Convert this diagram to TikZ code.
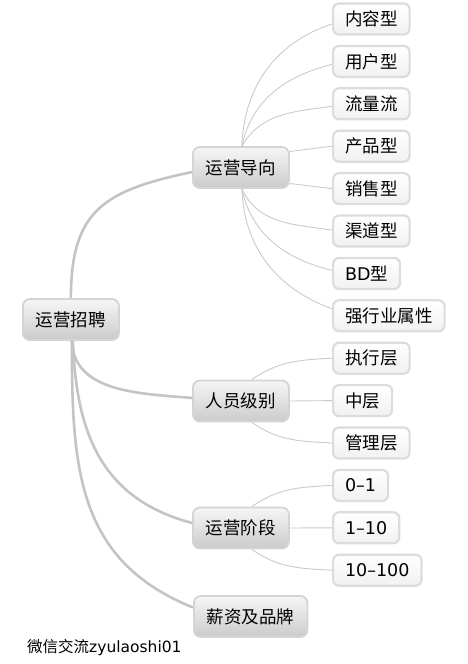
\documentclass[tikz,border=0pt]{standalone}
\usepackage{fontspec}
\setmainfont{Noto Sans CJK SC}
\newfontfamily\latin{DejaVu Sans}
\usepackage{tikz}
\definecolor{trunkgray}{HTML}{C4C4C4}
\definecolor{twiggray}{HTML}{CACACA}
\definecolor{boxedge}{HTML}{D4D4D4}
\definecolor{leafedge}{HTML}{DCDCDC}
\definecolor{boxtop}{HTML}{F6F6F6}
\definecolor{boxbottom}{HTML}{CBCBCB}
\definecolor{leafbottom}{HTML}{F1F1F1}

\begin{document}
\begin{tikzpicture}
	[x=1pt,y=-1pt,
	 mainbox/.style={anchor=west,rounded corners=7pt,draw=boxedge,line width=1.8pt,top color=boxtop,bottom color=boxbottom,minimum height=41pt,inner xsep=13pt,font=\fontsize{17.5}{20}\selectfont},
	 leafbox/.style={anchor=west,rounded corners=6pt,draw=leafedge,line width=2.2pt,top color=white,bottom color=leafbottom,minimum height=31pt,inner xsep=12pt,font=\fontsize{17.5}{20}\selectfont},
	 trunk/.style={trunkgray,line width=2.6pt},
	 twig/.style={twiggray,line width=0.9pt}];
\useasboundingbox (0,0) rectangle (468,664);

% main branches
\node[mainbox] (yyzp) at (22,319.5) {运营招聘};
\node[mainbox] (dx) at (192,167.5) {运营导向};
\node[mainbox] (ry) at (192,401) {人员级别};
\node[mainbox] (jd) at (192,528) {运营阶段};
\node[mainbox] (xz) at (193,616.5) {薪资及品牌};

\draw[trunk] (yyzp.north) to [out=90,in=192,looseness=1.3] ([yshift=-4.5pt]dx.west);
\draw[trunk] ([xshift=1pt]yyzp.south) to [out=-88,in=175] ([yshift=3pt]ry.west);
\draw[trunk] ([xshift=2pt]yyzp.south) to [out=-88,in=165,looseness=1.1] ([yshift=5pt]jd.west);
\draw[trunk] ([xshift=1pt]yyzp.south) to [out=-90,in=158,looseness=1.1] ([yshift=9pt]xz.west);

% leaves of 运营导向
\node[leafbox] (nr) at (332,19) {内容型};
\node[leafbox] (yh) at (332,61.4) {用户型};
\node[leafbox] (ll) at (332,103.8) {流量流};
\node[leafbox] (cp) at (332,146.2) {产品型};
\node[leafbox] (xs) at (332,188.6) {销售型};
\node[leafbox] (qd) at (332,231) {渠道型};
\node[leafbox] (bd) at (332,273.4) {{\latin BD}型};
\node[leafbox] (qh) at (332,315.8) {强行业属性};

\draw[twig] ([xshift=1pt]dx.north) to [out=88,in=198] ([yshift=-5pt]nr.west);
\draw[twig] ([xshift=1pt]dx.north) to [out=78,in=194] ([yshift=-3pt]yh.west);
\draw[twig] ([xshift=1pt]dx.north) to [out=60,in=188] ([yshift=-2.5pt]ll.west);
\draw[twig] ([yshift=16pt]dx.east) -- (cp.west);
\draw[twig] ([yshift=-16pt]dx.east) -- (xs.west);
\draw[twig] ([xshift=1pt]dx.south) to [out=-65,in=172] ([yshift=1pt]qd.west);
\draw[twig] ([xshift=1pt]dx.south) to [out=-78,in=166] ([yshift=3pt]bd.west);
\draw[twig] ([xshift=1pt]dx.south) to [out=-88,in=160] ([yshift=7pt]qh.west);

% leaves of 人员级别
\node[leafbox] (zx) at (332,358.2) {执行层};
\node[leafbox] (zc) at (332,400.6) {中层};
\node[leafbox] (gl) at (332,443) {管理层};

\draw[twig] ([xshift=11pt]ry.north) to [out=35,in=183] (zx.west);
\draw[twig] (ry.east) -- (zc.west);
\draw[twig] ([xshift=11pt]ry.south) to [out=-35,in=177] (gl.west);

% leaves of 运营阶段
\node[leafbox] (s1) at (332,485.4) {\latin 0–1};
\node[leafbox] (s2) at (332,527.8) {\latin 1–10};
\node[leafbox] (s3) at (332,570.2) {\latin 10–100};

\draw[twig] ([xshift=11pt]jd.north) to [out=35,in=183] (s1.west);
\draw[twig] (jd.east) -- (s2.west);
\draw[twig] ([xshift=11pt]jd.south) to [out=-35,in=177] (s3.west);

\node[anchor=west,inner sep=0pt,font=\fontsize{15.5}{18}\selectfont] (wm) at (27,648) {微信交流{\latin zyulaoshi01}};
\end{tikzpicture}
\end{document}
